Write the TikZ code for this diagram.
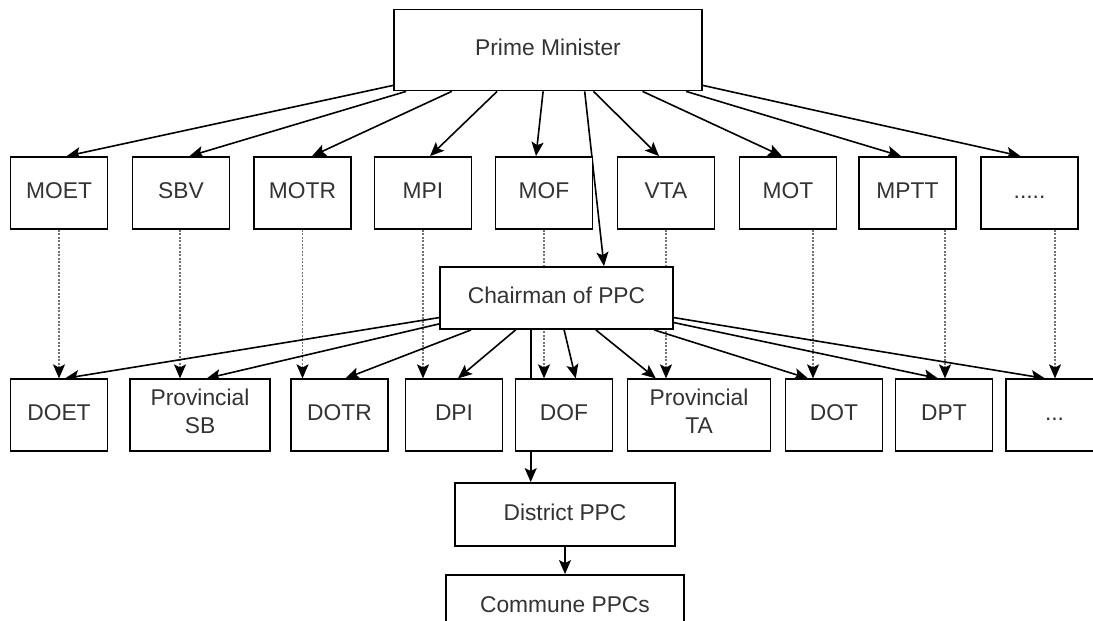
\documentclass[tikz,border=0pt]{standalone}
\usepackage{fontspec}
\setmainfont{Liberation Sans}
\usetikzlibrary{arrows.meta}
\pgfdeclarelayer{background}
\pgfsetlayers{background,main}
\begin{document}
\begin{tikzpicture}[x=1pt,y=-1pt,
  box/.style={draw=black, line width=1.8pt, fill=white, inner sep=0pt,
    minimum width=97pt, minimum height=72pt, text=black!80,
    font=\fontsize{22.8}{27.5}\selectfont, align=center,
    execute at end node=\strut},
  tip/.style={-{Stealth[length=14pt,width=12pt,inset=3pt,#1]}},
  edge/.style={line width=1.6pt, tip={}},
  dotarrow/.style={line width=1.3pt, draw=black!55, dash pattern=on 2pt off 1.5pt,
    tip={color=black}}
]
\clip (0,0) rectangle (1093,621);

% top level
\node[box, minimum width=308pt, minimum height=81pt] (pm) at (548,50) {Prime Minister};

% ministries
\node[box] (moet)  at (59,193)   {MOET};
\node[box] (sbv)   at (181,193)  {SBV};
\node[box] (motr)  at (302.5,193){MOTR};
\node[box] (mpi)   at (423,193)  {MPI};
\node[box] (mof)   at (544,193)  {MOF};
\node[box] (vta)   at (666,193)  {VTA};
\node[box] (mot)   at (788,193)  {MOT};
\node[box] (mptt)  at (907.5,193){MPTT};
\node[box] (mdots) at (1029.5,193){.....};

% provincial level
\node[box, minimum width=233pt, minimum height=62pt] (chair) at (556.5,298) {Chairman of PPC};

\node[box] (doet)  at (59,415.3)   {DOET};
\node[box, minimum width=140pt] (provsb) at (200,415.3) {Provincial\\SB};
\node[box] (dotr)  at (339.5,415.3){DOTR};
\node[box] (dpi)   at (454,415.3)  {DPI};
\node[box] (dof)   at (564,415.3)  {DOF};
\node[box, minimum width=143pt] (provta) at (699,415.3) {Provincial\\TA};
\node[box] (dot)   at (834,415.3)  {DOT};
\node[box] (dpt)   at (944,415.3)  {DPT};
\node[box] (pdots) at (1054.5,415.3){...};

% district and commune level
\node[box, minimum width=220pt, minimum height=63pt] (district) at (565,514.5) {District PPC};
\node[box, minimum width=238pt, minimum height=63pt] (commune) at (565,606.5) {Commune PPCs};

\begin{pgfonlayer}{background}
% Prime Minister to ministries
\draw[edge] ([yshift=6pt]pm.south west) -- ([xshift=7.7pt]moet.north);
\draw[edge] ([xshift=13pt]pm.south west) -- ([xshift=8.5pt]sbv.north);
\draw[edge] ([xshift=58.6pt]pm.south west) -- ([xshift=9.5pt]motr.north);
\draw[edge] ([xshift=104pt]pm.south west) -- ([xshift=7pt]mpi.north);
\draw[edge] ([xshift=150pt]pm.south west) -- ([xshift=-8pt]mof.north);
\draw[edge] ([xshift=191.6pt]pm.south west) -- ([xshift=47.5pt]chair.north);
\draw[edge] ([xshift=200.4pt]pm.south west) -- ([xshift=-7pt]vta.north);
\draw[edge] ([xshift=249.5pt]pm.south west) -- ([xshift=-6pt]mot.north);
\draw[edge] ([xshift=293pt]pm.south west) -- ([xshift=-6.5pt]mptt.north);
\draw[edge] ([yshift=6pt]pm.south east) -- ([xshift=-9pt]mdots.north);

% ministries to provincial departments
\draw[dotarrow] (moet.south) -- (moet.south |- doet.north);
\draw[dotarrow] ([xshift=-1pt]sbv.south) -- ([xshift=-1pt]sbv.south |- provsb.north);
\draw[dotarrow] (motr.south) -- (motr.south |- dotr.north);
\draw[dotarrow] (mpi.south) -- (mpi.south |- dpi.north);
\draw[dotarrow] (mof.south) -- (mof.south |- dof.north);
\draw[dotarrow] (vta.south) -- (vta.south |- provta.north);
\draw[dotarrow] ([xshift=25pt]mot.south) -- ([xshift=25pt]mot.south |- dot.north);
\draw[dotarrow] ([xshift=37.5pt]mptt.south) -- ([xshift=37.5pt]mptt.south |- dpt.north);
\draw[dotarrow] ([xshift=25.5pt]mdots.south) -- ([xshift=25.5pt]mdots.south |- pdots.north);

% Chairman of PPC to provincial departments
\draw[edge] ([yshift=12.3pt]chair.south west) -- ([xshift=6pt]doet.north);
\draw[edge] ([yshift=6pt]chair.south west) -- ([xshift=6.7pt]provsb.north);
\draw[edge] ([xshift=32pt]chair.south west) -- ([xshift=6pt]dotr.north);
\draw[edge] ([xshift=76.5pt]chair.south west) -- ([xshift=4pt]dpi.north);
\draw[edge] ([xshift=91.6pt]chair.south west) -- ([xshift=91.6pt]chair.south west |- district.north);
\draw[edge] ([xshift=125pt]chair.south west) -- ([xshift=11.7pt]dof.north);
\draw[edge] ([xshift=156.7pt]chair.south west) -- ([xshift=-43.2pt]provta.north);
\draw[edge] ([xshift=215pt]chair.south west) -- ([xshift=-26pt]dot.north);
\draw[edge] ([yshift=7.3pt]chair.south east) -- ([xshift=-6pt]dpt.north);
\draw[edge] ([yshift=12.3pt]chair.south east) -- ([xshift=-9.5pt]pdots.north);

% district to communes
\draw[edge] (district.south) -- (commune.north);
\end{pgfonlayer}
\end{tikzpicture}
\end{document}
